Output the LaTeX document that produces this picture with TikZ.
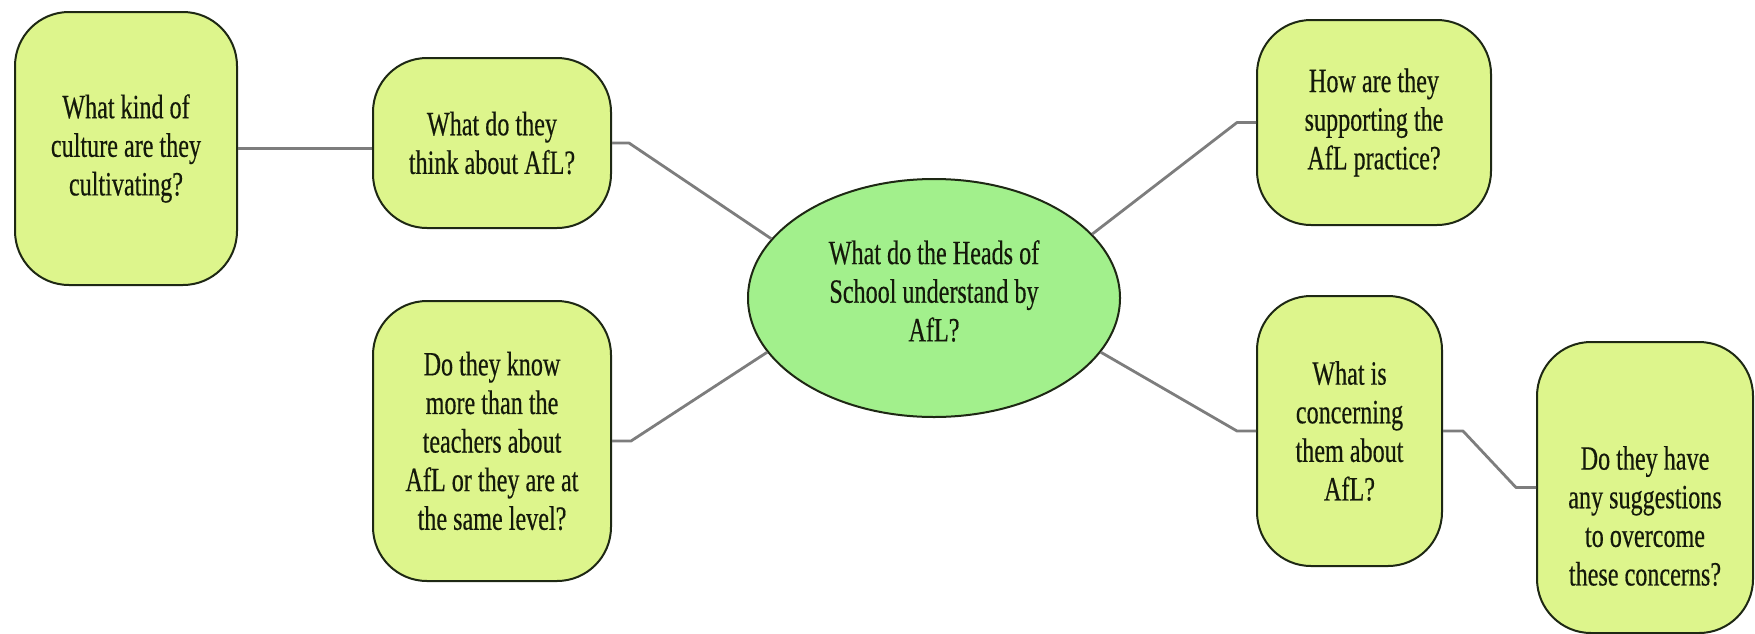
\documentclass[tikz,border=0pt]{standalone}
\usepackage{fontspec}
\setmainfont{Liberation Serif}[FakeStretch=0.71,FakeBold=0.4]
\usetikzlibrary{shapes.geometric}
\definecolor{boxfill}{RGB}{221,245,140}
\definecolor{ellfill}{RGB}{162,240,140}
\definecolor{edgecol}{RGB}{30,40,20}
\definecolor{conncol}{RGB}{125,125,125}
\definecolor{txtcol}{RGB}{20,25,10}
\tikzset{
  qfont/.style={font=\fontsize{17}{19.3}\selectfont},
  qbox/.style={draw=edgecol, line width=1pt, fill=boxfill, rounded corners=27pt,
    align=center, inner sep=0pt, text=txtcol, qfont},
  qtext/.style={align=center, inner sep=0pt, text=txtcol, qfont},
  hubnode/.style={ellipse, draw=edgecol, line width=1pt, fill=ellfill, inner sep=0pt,
    minimum width=186pt, minimum height=119pt},
  connline/.style={draw=conncol, line width=1.4pt, line join=round}
}
\begin{document}
\begin{tikzpicture}[x=0.5pt,y=-0.5pt]
\useasboundingbox (0,0) rectangle (1755,633);
% central ellipse
\node[hubnode] (hub) at (934,298) {};
\node[qtext] (hubt) at (934,291) {What do the Heads of\\School understand by\\AfL?};
% left boxes
\node[qbox, minimum width=111pt, minimum height=136.5pt] (cult) at (126,148.5)
  {What kind of\\culture are they\\cultivating?};
\node[qbox, minimum width=119pt, minimum height=85pt] (think) at (492,143)
  {What do they\\think about AfL?};
\node[qbox, minimum width=119pt, minimum height=140pt] (know) at (492,441)
  {Do they know\\more than the\\teachers about\\AfL or they are at\\the same level?};
% right boxes
\node[qbox, minimum width=117pt, minimum height=102.5pt] (sup) at (1374,122.5)
  {How are they\\supporting the\\AfL practice?};
\node[qbox, minimum width=92.5pt, minimum height=135pt] (conc) at (1349.5,431)
  {What is\\concerning\\them about\\AfL?};
\node[qbox, minimum width=108pt, minimum height=145.5pt] (sug) at (1645,487.5) {};
\node[qtext] (sugt) at (1645,516)
  {Do they have\\any suggestions\\to overcome\\these concerns?};
% connectors
\draw[connline] (cult.east) -- (cult.east -| think.west);
\draw[connline] (think.east) -- ++(17,0) -- (hub.160);
\draw[connline] (know.east) -- ++(19,0) -- (hub.198);
\draw[connline] (sup.west) -- ++(-19,0) -- (hub.22);
\draw[connline] (conc.west) -- ++(-19,0) -- (hub.-18);
\draw[connline] (conc.east) -- ++(20,0) -- ([xshift=-10pt]sug.west) -- (sug.west);
\end{tikzpicture}
\end{document}
